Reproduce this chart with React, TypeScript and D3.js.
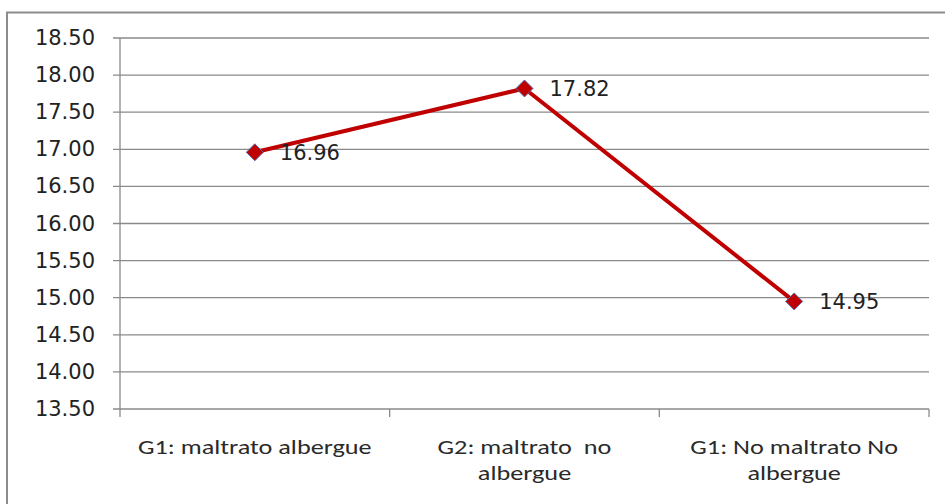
import React from "react";
import * as d3 from "d3";

const categories: string[][] = [
  ["G1: maltrato albergue"],
  ["G2: maltrato  no", "albergue"],
  ["G1: No maltrato No", "albergue"],
];
const values: number[] = [16.96, 17.82, 14.95];
const yTicks: number[] = [13.5, 14, 14.5, 15, 15.5, 16, 16.5, 17, 17.5, 18, 18.5];

const W = 945;
const H = 504;
const plot = { left: 120, right: 929, top: 38, bottom: 409 };
const FONT = "'DejaVu Sans', Verdana, sans-serif";
const CAT_FONT = "Carlito, Calibri, 'Open Sans', 'Liberation Sans', sans-serif";

export default function App() {
  const x = d3
    .scaleBand<number>()
    .domain(values.map((_, i) => i))
    .range([plot.left, plot.right])
    .padding(0);
  const y = d3.scaleLinear().domain([13.5, 18.5]).range([plot.bottom, plot.top]);
  const cx = (i: number) => (x(i) as number) + x.bandwidth() / 2;
  const line = d3
    .line<number>()
    .x((_, i) => cx(i))
    .y((d) => y(d));
  const boundaries = [...values.map((_, i) => x(i) as number), plot.right];
  const diamond = (px: number, py: number, r: number) =>
    `M${px},${py - r}L${px + r},${py}L${px},${py + r}L${px - r},${py}Z`;

  return (
    <svg
      width={W}
      height={H}
      style={{ position: "absolute", left: 0, top: 0, background: "#fff" }}
    >
      <rect x={7} y={12.5} width={W + 20} height={H + 20} fill="#fff" stroke="#8c8c8c" strokeWidth={2} />
      {yTicks.map((t) => (
        <g key={t}>
          <line x1={plot.left - 7} x2={plot.right} y1={y(t)} y2={y(t)} stroke="#8a8a8a" strokeWidth={1.3} />
          <text
            x={95}
            y={y(t)}
            textAnchor="end"
            dominantBaseline="central"
            fontFamily={FONT}
            fontSize={21}
            fill="#222"
          >
            {t.toFixed(2)}
          </text>
        </g>
      ))}
      <line x1={plot.left} x2={plot.left} y1={plot.top} y2={plot.bottom} stroke="#8a8a8a" strokeWidth={1.3} />
      {boundaries.map((b, i) => (
        <line key={i} x1={b} x2={b} y1={plot.bottom} y2={plot.bottom + 8} stroke="#8a8a8a" strokeWidth={1.3} />
      ))}
      {categories.map((lines, i) => (
        <g key={i} transform={`translate(${cx(i)},0) scale(1.28,1)`}>
          <text textAnchor="middle" fontFamily={CAT_FONT} fontSize={20.5} fill="#2a2a2a">
            {lines.map((l, j) => (
              <tspan key={j} x={0} y={454 + j * 26} style={{ whiteSpace: "pre" }}>
                {l}
              </tspan>
            ))}
          </text>
        </g>
      ))}
      <path d={line(values) || ""} fill="none" stroke="#c00000" strokeWidth={4} strokeLinejoin="round" />
      {values.map((v, i) => (
        <g key={i}>
          <path d={diamond(cx(i), y(v), 8.5)} fill="#c00000" stroke="#4f6fb0" strokeWidth={1} />
          <text
            x={cx(i) + 25}
            y={y(v) + 1}
            dominantBaseline="central"
            fontFamily={FONT}
            fontSize={21}
            fill="#222"
          >
            {v.toFixed(2)}
          </text>
        </g>
      ))}
    </svg>
  );
}
